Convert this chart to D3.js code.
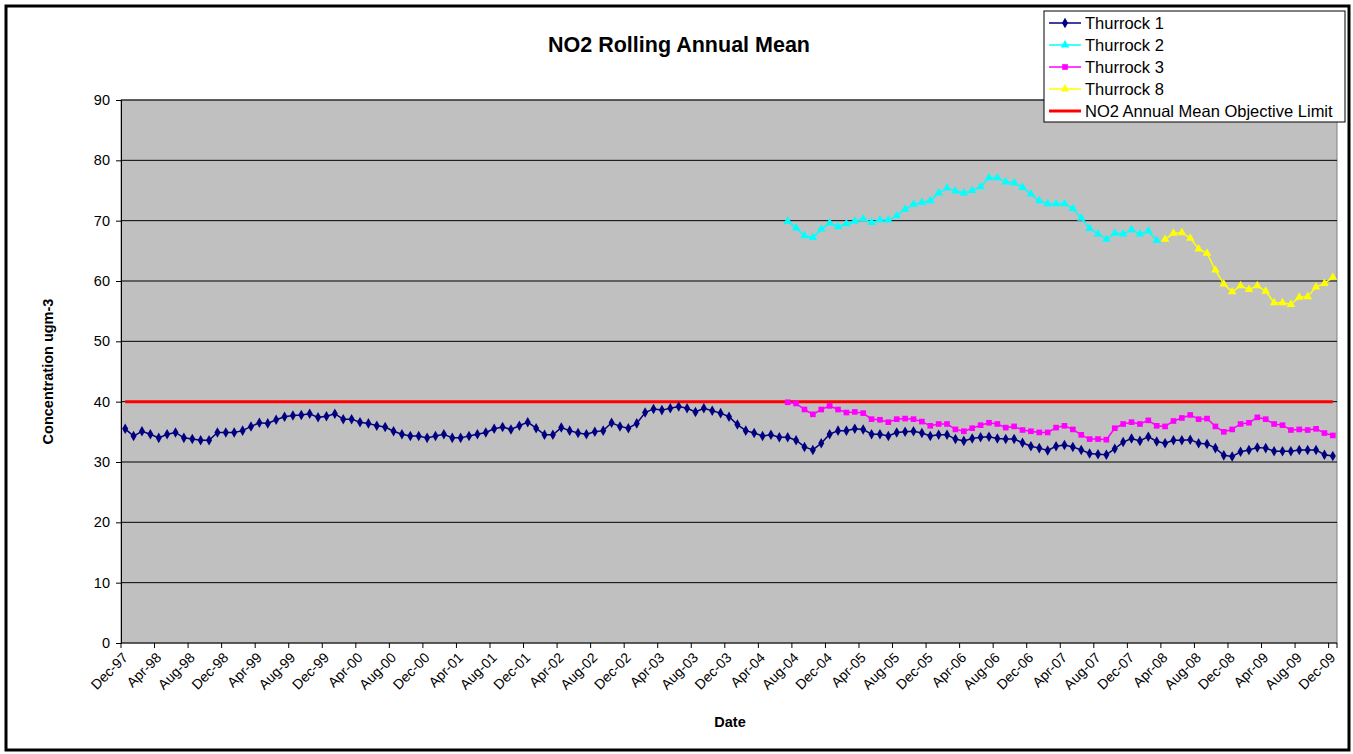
<!DOCTYPE html>
<html><head><meta charset="utf-8">
<script src="https://cdn.jsdelivr.net/npm/d3@7"></script>
<style>
body{margin:0;background:#fff;}
svg{display:block;font-family:Arial,"Liberation Sans",sans-serif;}
</style></head>
<body><svg id="chart" width="1353" height="754"></svg>
<script>
// ---- data ----
const categories = d3.timeMonth.range(new Date(1997, 11, 1), new Date(2010, 0, 1)).map(d3.timeFormat("%b-%y"));
const tickLabels = ["Dec-97","Apr-98","Aug-98","Dec-98","Apr-99","Aug-99","Dec-99","Apr-00","Aug-00","Dec-00",
  "Apr-01","Aug-01","Dec-01","Apr-02","Aug-02","Dec-02","Apr-03","Aug-03","Dec-03","Apr-04","Aug-04","Dec-04",
  "Apr-05","Aug-05","Dec-05","Apr-06","Aug-06","Dec-06","Apr-07","Aug-07","Dec-07","Apr-08","Aug-08","Dec-08",
  "Apr-09","Aug-09","Dec-09"];
const yTicks = [0,10,20,30,40,50,60,70,80,90];

const thurrock1 = [35.5,34.3,35.1,34.6,34.0,34.6,34.9,34.0,33.8,33.6,33.6,34.9,34.9,34.9,35.2,35.9,36.5,36.4,37.0,37.5,
  37.7,37.8,38.0,37.4,37.6,38.0,37.1,37.1,36.6,36.4,36.0,35.8,35.1,
  34.6,34.3,34.3,34.0,34.3,34.6,34.0,34.0,34.3,34.6,34.9,35.5,35.8,35.4,36.0,36.6,35.6,34.5,34.5,35.7,35.2,34.8,
  34.6,35.0,35.2,36.5,35.9,35.6,36.4,38.2,38.8,38.6,38.9,39.2,
  38.9,38.3,38.9,38.5,38.1,37.5,36.2,35.2,34.8,34.3,34.5,34.1,34.1,33.6,32.5,32.0,33.1,34.6,35.2,35.2,35.5,35.4,
  34.6,34.6,34.3,34.9,35.0,35.1,34.8,34.3,34.5,34.5,
  33.8,33.5,33.9,34.1,34.2,33.9,33.8,33.8,33.2,32.6,32.3,31.9,32.6,32.8,32.5,32.0,31.4,31.3,31.2,32.2,33.3,33.9,
  33.5,34.2,33.4,33.1,33.6,
  33.6,33.7,33.1,33.0,32.3,31.1,30.9,31.7,32.0,32.4,32.3,31.8,31.8,31.8,32.0,32.0,32.0,31.2,31.0];
const thurrock2Start = "Jul-04";
const thurrock2 = [69.9,68.8,67.5,67.2,68.6,69.6,69.0,69.5,69.9,70.3,69.7,70.1,70.1,70.8,71.9,72.7,73.0,73.3,74.6,
  75.4,74.9,74.6,75.0,75.6,77.1,77.1,76.4,76.3,75.5,
  74.4,73.3,72.8,72.8,72.8,72.0,70.4,68.7,67.8,66.9,67.9,67.8,68.5,67.8,68.3,66.7];
const thurrock3Start = "Jul-04";
const thurrock3 = [39.9,39.7,38.7,37.9,38.7,39.3,38.7,38.2,38.3,38.1,37.1,37.0,36.6,37.1,37.2,37.1,36.7,36.0,36.3,36.3,35.4,
  35.1,35.6,36.1,36.5,36.3,35.7,35.9,35.3,35.1,34.9,34.9,35.7,36.0,35.4,34.5,33.8,33.8,33.7,35.6,36.3,36.6,36.3,
  36.9,36.0,35.9,36.8,
  37.3,37.8,37.1,37.2,35.9,35.0,35.4,36.3,36.5,37.4,37.1,36.3,36.1,35.3,35.4,35.3,35.5,34.8,34.4];
const thurrock8Start = "Apr-08";
const thurrock8 = [66.9,67.9,68.0,67.1,65.3,64.6,61.8,59.5,58.2,59.2,58.6,59.2,58.3,56.4,56.4,56.1,57.3,57.4,59.0,59.6,60.6];
const objectiveLimit = 40;

const seriesNames = ["Thurrock 1","Thurrock 2","Thurrock 3","Thurrock 8","NO2 Annual Mean Objective Limit"];

// ---- layout ----
const svg = d3.select("#chart");
const L = 121, R = 1337, T = 100, B = 643;
const x = d3.scaleBand().domain(categories).range([L, R]).padding(0);
const cx = c => x(c) + x.bandwidth() / 2;
const y = d3.scaleLinear().domain([0, 90]).range([B, T]);

svg.append("rect").attr("x", 6).attr("y", 6).attr("width", 1343).attr("height", 744)
  .attr("fill", "#fff").attr("stroke", "#000").attr("stroke-width", 3);

svg.append("text").attr("x", 679).attr("y", 52).attr("text-anchor", "middle")
  .attr("font-size", 21.5).attr("font-weight", "bold").text("NO2 Rolling Annual Mean");

svg.append("rect").attr("x", L).attr("y", T).attr("width", R - L).attr("height", B - T)
  .attr("fill", "#C0C0C0").attr("stroke", "#808080").attr("stroke-width", 1);

// gridlines
svg.append("g").selectAll("line").data(yTicks.filter(v => v > 0)).join("line")
  .attr("x1", L).attr("x2", R).attr("y1", d => y(d)).attr("y2", d => y(d))
  .attr("stroke", "#000").attr("stroke-width", 1);

// y axis
const yAxis = svg.append("g").attr("transform", `translate(${L},0)`)
  .call(d3.axisLeft(y).tickValues(yTicks).tickSize(5).tickPadding(6));
yAxis.select(".domain").attr("stroke", "#000");
yAxis.selectAll("text").attr("font-size", 14.5).attr("font-family", "Arial,'Liberation Sans',sans-serif").attr("fill", "#000");

// x axis
const xAxis = svg.append("g").attr("transform", `translate(0,${B})`);
xAxis.append("line").attr("x1", L).attr("x2", R).attr("stroke", "#000");
const tickIdx = tickLabels.map(t => categories.indexOf(t));
xAxis.selectAll("line.tk").data(tickIdx.concat([categories.length])).join("line").attr("class", "tk")
  .attr("x1", i => i < categories.length ? x(categories[i]) : R)
  .attr("x2", i => i < categories.length ? x(categories[i]) : R)
  .attr("y1", 0).attr("y2", 5).attr("stroke", "#000");
xAxis.selectAll("text").data(tickLabels).join("text")
  .attr("transform", d => `translate(${cx(d)},${12}) rotate(-45)`)
  .attr("text-anchor", "end").attr("font-size", 14).attr("dy", "0.35em").text(d => d);

svg.append("text").attr("x", 730).attr("y", 727).attr("text-anchor", "middle")
  .attr("font-size", 14.5).attr("font-weight", "bold").text("Date");
svg.append("text").attr("transform", `translate(53,${(T + B) / 2}) rotate(-90)`).attr("text-anchor", "middle")
  .attr("font-size", 14.5).attr("font-weight", "bold").text("Concentration ugm-3");

// ---- series ----
function seq(values, start) {
  const s = categories.indexOf(start);
  return values.map((v, i) => ({c: categories[s + i], v}));
}
const objData = categories.map(c => ({c, v: objectiveLimit}));
const line = d3.line().x(d => cx(d.c)).y(d => y(d.v));

const series = [
  {name: seriesNames[4], data: objData, color: "#FF0000", width: 3, marker: null},
  {name: seriesNames[0], data: seq(thurrock1, "Dec-97"), color: "#000080", width: 1.5, marker: d3.symbolDiamond, size: 32},
  {name: seriesNames[1], data: seq(thurrock2, thurrock2Start), color: "#00FFFF", width: 1.5, marker: d3.symbolTriangle, size: 32},
  {name: seriesNames[2], data: seq(thurrock3, thurrock3Start), color: "#FF00FF", width: 1.5, marker: d3.symbolSquare, size: 32},
  {name: seriesNames[3], data: seq(thurrock8, thurrock8Start), color: "#FFFF00", width: 1.5, marker: d3.symbolTriangle, size: 32}
];
const plot = svg.append("g");
series.forEach(s => {
  plot.append("path").datum(s.data).attr("d", line).attr("fill", "none")
    .attr("stroke", s.color).attr("stroke-width", s.width);
  if (s.marker) {
    plot.append("g").selectAll("path").data(s.data).join("path")
      .attr("transform", d => `translate(${cx(d.c)},${y(d.v)})`)
      .attr("d", d3.symbol().type(s.marker).size(s.size)).attr("fill", s.color);
  }
});

// ---- legend ----
const lg = svg.append("g");
lg.append("rect").attr("x", 1044).attr("y", 11).attr("width", 301).attr("height", 111)
  .attr("fill", "#fff").attr("stroke", "#000").attr("stroke-width", 1);
const legendOrder = [series[1], series[2], series[3], series[4], series[0]];
legendOrder.forEach((s, i) => {
  const yy = 23 + i * 22;
  lg.append("line").attr("x1", 1049).attr("x2", 1081).attr("y1", yy).attr("y2", yy)
    .attr("stroke", s.color).attr("stroke-width", s.width);
  if (s.marker) lg.append("path").attr("transform", `translate(1065,${yy})`)
    .attr("d", d3.symbol().type(s.marker).size(s.size)).attr("fill", s.color);
  lg.append("text").attr("x", 1085).attr("y", yy + 6).attr("font-size", 16.5).text(s.name);
});
</script></body></html>
